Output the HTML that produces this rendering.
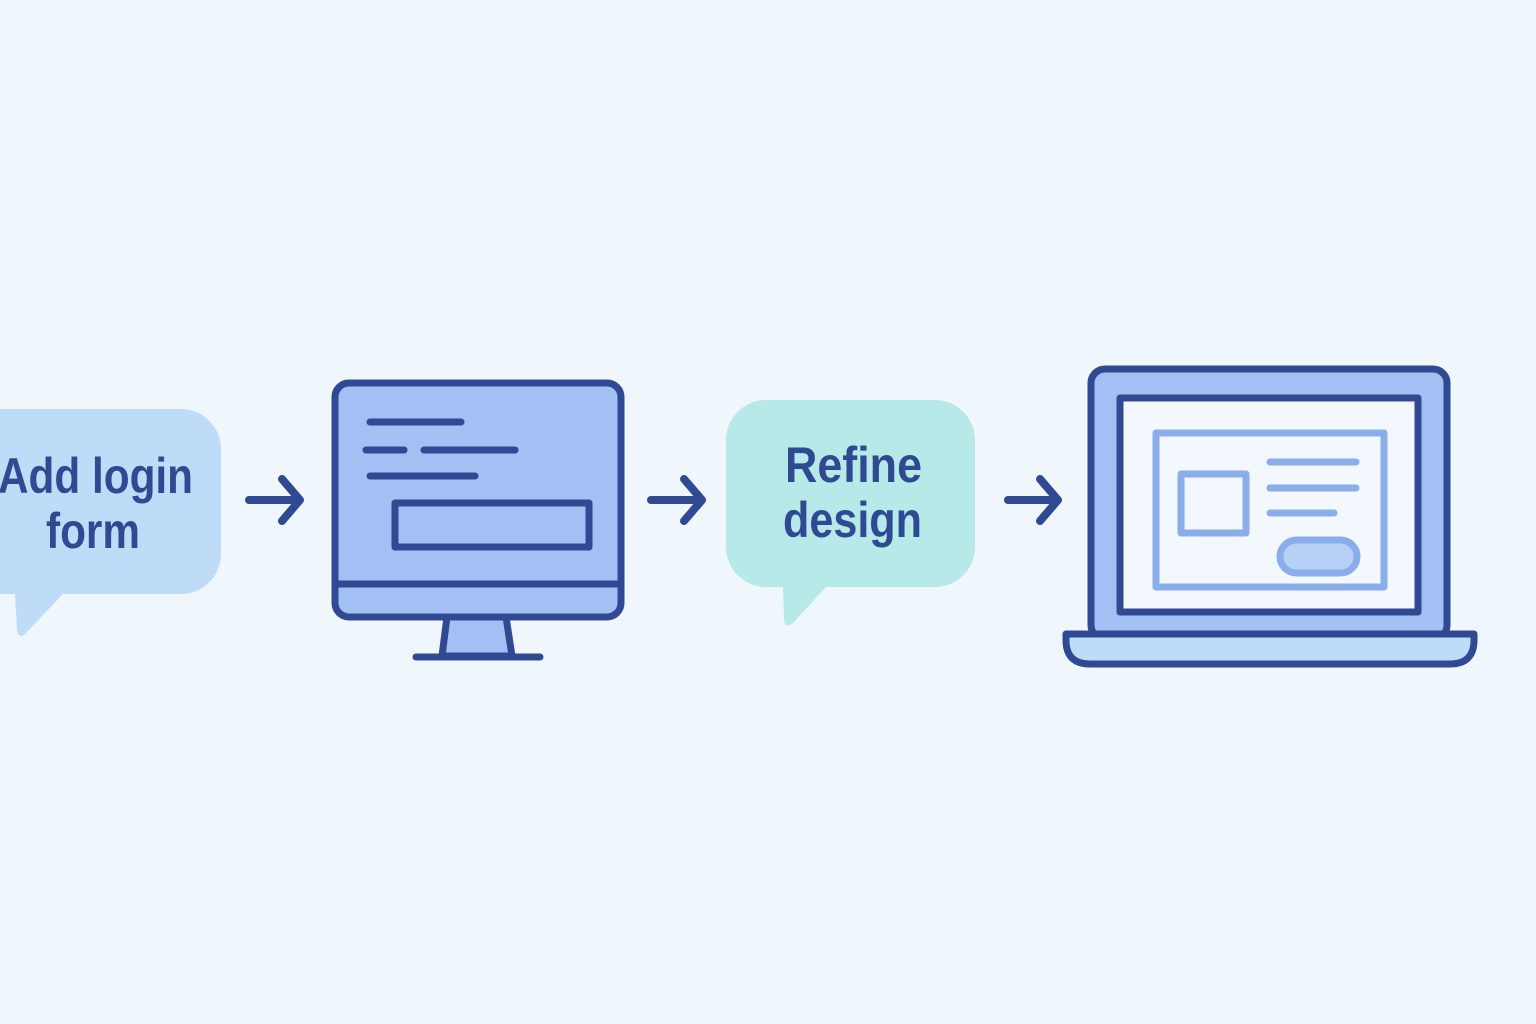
<!DOCTYPE html>
<html><head><meta charset="utf-8"><style>
html,body{margin:0;padding:0;background:#eff7fd;}
svg{display:block}
text{font-family:"Liberation Sans",sans-serif;font-weight:bold;fill:#2f4a93;font-size:50px}
</style></head><body>
<svg width="1536" height="1024" viewBox="0 0 1536 1024" xmlns="http://www.w3.org/2000/svg">
<rect width="1536" height="1024" fill="#eff7fd"/>
<!-- bubble 1 -->
<path d="M-40 409 H181 A40 40 0 0 1 221 449 V554 A40 40 0 0 1 181 594 H63 L24 635 Q18 638 17 630 L15 594 H-40 Z" fill="#bedcf7"/>
<text x="-2" y="493" textLength="195" lengthAdjust="spacingAndGlyphs">Add login</text>
<text x="46" y="548" textLength="94" lengthAdjust="spacingAndGlyphs">form</text>
<!-- arrows -->
<g stroke="#2f4a93" stroke-width="8" stroke-linecap="round" stroke-linejoin="round" fill="none">
<path d="M249 500 H299 M282 479 L300 500 L282 521"/>
<path d="M651 500 H701 M684 479 L702 500 L684 521"/>
<path d="M1008 500 H1057 M1040 479 L1058 500 L1040 521"/>
</g>
<!-- monitor -->
<g stroke="#2f4a93" stroke-width="7" stroke-linejoin="round">
<path d="M447 617 L442 656 H512 L506 617 Z" fill="#a3c0f4"/>
<rect x="335" y="383" width="286" height="234" rx="14" fill="#a3c0f4"/>
<line x1="337" y1="584" x2="619" y2="584"/>
<rect x="395" y="503" width="194" height="44" fill="#a3c0f4"/>
<g stroke-linecap="round">
<line x1="370" y1="422" x2="461" y2="422"/>
<line x1="366" y1="450" x2="404" y2="450"/>
<line x1="424" y1="450" x2="515" y2="450"/>
<line x1="370" y1="476" x2="475" y2="476"/>
<line x1="416" y1="657" x2="540" y2="657"/>
</g>
</g>
<!-- bubble 2 -->
<path d="M766 400 H935 A40 40 0 0 1 975 440 V547 A40 40 0 0 1 935 587 H826 L792 624 Q785 628 784 620 L783 587 H766 A40 40 0 0 1 726 547 V440 A40 40 0 0 1 766 400 Z" fill="#b6e9e8"/>
<text x="785" y="482" textLength="137" lengthAdjust="spacingAndGlyphs">Refine</text>
<text x="783" y="537" textLength="139" lengthAdjust="spacingAndGlyphs">design</text>
<!-- laptop -->
<g stroke="#2f4a93" stroke-width="7" stroke-linejoin="round">
<rect x="1091" y="369" width="356" height="270" rx="14" fill="#a3c0f4"/>
<rect x="1120" y="398" width="298" height="214" fill="#f3f8fe"/>
<path d="M1066 634 H1474 V640 Q1474 664 1450 664 H1090 Q1066 664 1066 640 Z" fill="#bedcf7"/>
</g>
<g stroke="#8aaee9" stroke-width="7" fill="none" stroke-linejoin="round" stroke-linecap="round">
<rect x="1156" y="433" width="228" height="154"/>
<rect x="1181" y="474" width="65" height="59"/>
<line x1="1270" y1="462" x2="1356" y2="462"/>
<line x1="1270" y1="488" x2="1356" y2="488"/>
<line x1="1270" y1="513" x2="1334" y2="513"/>
<rect x="1280" y="540" width="77" height="33" rx="16.5" fill="#b6d1f5"/>
</g>
</svg>
</body></html>
